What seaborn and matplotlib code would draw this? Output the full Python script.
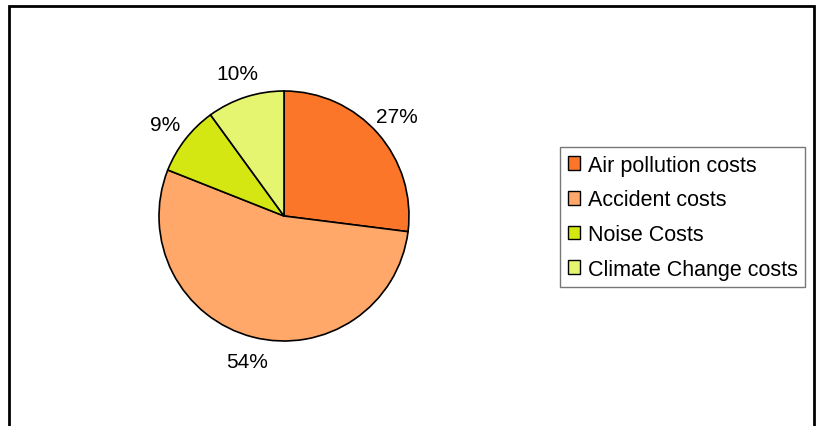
import matplotlib
matplotlib.use("Agg")
import matplotlib.pyplot as plt
import seaborn as sns
from matplotlib.patches import Rectangle, Patch

# Data
labels = ['Air pollution costs', 'Accident costs', 'Noise Costs', 'Climate Change costs']
shares = [27, 54, 9, 10]
colors = ['#FB7628', '#FFA86A', '#D4E712', '#E6F570']

sns.set_theme(style="white")
plt.rcParams['font.family'] = ['Liberation Sans', 'DejaVu Sans']

fig = plt.figure(figsize=(8.16, 4.27), dpi=100)
fig.patch.set_facecolor('white')

# pie axes: centre (284, 217) px, radius 125 px
W, H = 816, 427
cx, cy, r = 284, 217, 125
ax = fig.add_axes([(cx - r) / W, (H - cy - r) / H, 2 * r / W, 2 * r / H])
wedges, texts = ax.pie(shares, colors=colors, startangle=90, counterclock=False,
                       labels=[f'{s}%' for s in shares], labeldistance=1.2,
                       wedgeprops=dict(edgecolor='black', linewidth=1.2),
                       textprops=dict(fontsize=15, color='black'))
for t in texts:
    t.set_ha('center')
ax.set_xlim(-1, 1)
ax.set_ylim(-1, 1)
ax.set_aspect('equal')
ax.axis('off')

handles = [Patch(facecolor=c, edgecolor='black', linewidth=1) for c in colors]
leg = fig.legend(handles, labels, loc='upper left',
                 bbox_to_anchor=(560 / W, (H - 148) / H),
                 fontsize=15.5, frameon=True, fancybox=False,
                 handlelength=0.6, handleheight=0.6, handletextpad=0.35,
                 labelspacing=0.64, borderpad=0.35, borderaxespad=0)
leg.get_frame().set_edgecolor('#555555')
leg.get_frame().set_linewidth(1)
for t in leg.get_texts():
    t.set_color('black')

# outer frame (bottom edge cut off by the image)
fig.patches.append(Rectangle((9 / W, -0.05), (814 - 9) / W, (H - 7) / H + 0.05,
                             transform=fig.transFigure, fill=False,
                             edgecolor='black', linewidth=2, clip_on=False))

fig.savefig('out.png', dpi=100)
